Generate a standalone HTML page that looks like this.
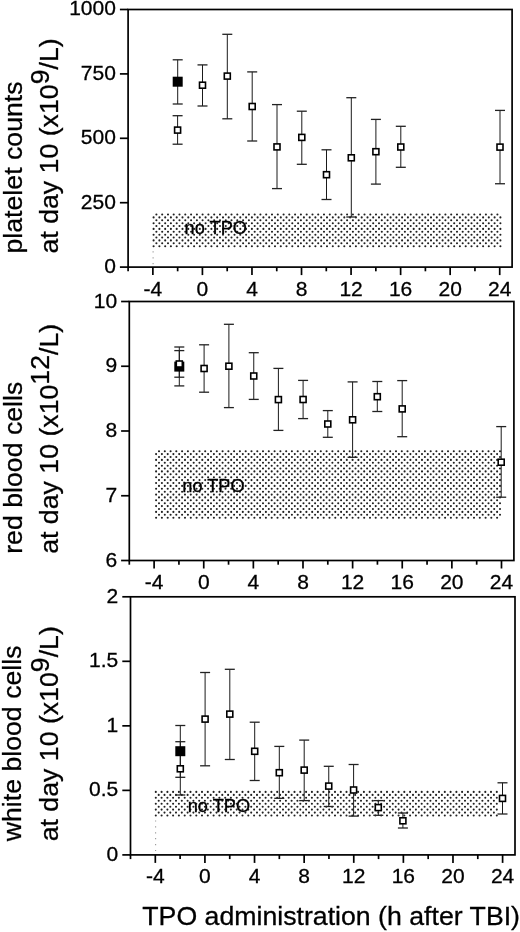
<!DOCTYPE html><html><head><meta charset="utf-8"><style>html,body{margin:0;padding:0;background:#fff;}svg{display:block;filter:grayscale(1);}text{font-family:"Liberation Sans", sans-serif;fill:#000;stroke:#000;stroke-width:0.3px;}</style></head><body>
<svg width="520" height="932" viewBox="0 0 520 932">
<rect width="520" height="932" fill="#fff"/>
<path fill="none" stroke="#202020" stroke-width="2.1" stroke-linecap="round" d="M156.4 214.5h0M162.2 214.5h0M168.0 214.5h0M173.7 214.5h0M179.5 214.5h0M185.3 214.5h0M191.1 214.5h0M196.9 214.5h0M202.6 214.5h0M208.4 214.5h0M214.2 214.5h0M220.0 214.5h0M225.8 214.5h0M231.5 214.5h0M237.3 214.5h0M243.1 214.5h0M248.9 214.5h0M254.7 214.5h0M260.4 214.5h0M266.2 214.5h0M272.0 214.5h0M277.8 214.5h0M283.6 214.5h0M289.3 214.5h0M295.1 214.5h0M300.9 214.5h0M306.7 214.5h0M312.5 214.5h0M318.2 214.5h0M324.0 214.5h0M329.8 214.5h0M335.6 214.5h0M341.4 214.5h0M347.1 214.5h0M352.9 214.5h0M358.7 214.5h0M364.5 214.5h0M370.3 214.5h0M376.0 214.5h0M381.8 214.5h0M387.6 214.5h0M393.4 214.5h0M399.2 214.5h0M404.9 214.5h0M410.7 214.5h0M416.5 214.5h0M422.3 214.5h0M428.1 214.5h0M433.8 214.5h0M439.6 214.5h0M445.4 214.5h0M451.2 214.5h0M457.0 214.5h0M462.7 214.5h0M468.5 214.5h0M474.3 214.5h0M480.1 214.5h0M485.9 214.5h0M491.6 214.5h0M497.4 214.5h0M156.4 220.3h0M162.2 220.3h0M168.0 220.3h0M173.7 220.3h0M179.5 220.3h0M185.3 220.3h0M191.1 220.3h0M196.9 220.3h0M202.6 220.3h0M208.4 220.3h0M214.2 220.3h0M220.0 220.3h0M225.8 220.3h0M231.5 220.3h0M237.3 220.3h0M243.1 220.3h0M248.9 220.3h0M254.7 220.3h0M260.4 220.3h0M266.2 220.3h0M272.0 220.3h0M277.8 220.3h0M283.6 220.3h0M289.3 220.3h0M295.1 220.3h0M300.9 220.3h0M306.7 220.3h0M312.5 220.3h0M318.2 220.3h0M324.0 220.3h0M329.8 220.3h0M335.6 220.3h0M341.4 220.3h0M347.1 220.3h0M352.9 220.3h0M358.7 220.3h0M364.5 220.3h0M370.3 220.3h0M376.0 220.3h0M381.8 220.3h0M387.6 220.3h0M393.4 220.3h0M399.2 220.3h0M404.9 220.3h0M410.7 220.3h0M416.5 220.3h0M422.3 220.3h0M428.1 220.3h0M433.8 220.3h0M439.6 220.3h0M445.4 220.3h0M451.2 220.3h0M457.0 220.3h0M462.7 220.3h0M468.5 220.3h0M474.3 220.3h0M480.1 220.3h0M485.9 220.3h0M491.6 220.3h0M497.4 220.3h0M156.4 226.0h0M162.2 226.0h0M168.0 226.0h0M173.7 226.0h0M179.5 226.0h0M185.3 226.0h0M191.1 226.0h0M196.9 226.0h0M202.6 226.0h0M208.4 226.0h0M214.2 226.0h0M220.0 226.0h0M225.8 226.0h0M231.5 226.0h0M237.3 226.0h0M243.1 226.0h0M248.9 226.0h0M254.7 226.0h0M260.4 226.0h0M266.2 226.0h0M272.0 226.0h0M277.8 226.0h0M283.6 226.0h0M289.3 226.0h0M295.1 226.0h0M300.9 226.0h0M306.7 226.0h0M312.5 226.0h0M318.2 226.0h0M324.0 226.0h0M329.8 226.0h0M335.6 226.0h0M341.4 226.0h0M347.1 226.0h0M352.9 226.0h0M358.7 226.0h0M364.5 226.0h0M370.3 226.0h0M376.0 226.0h0M381.8 226.0h0M387.6 226.0h0M393.4 226.0h0M399.2 226.0h0M404.9 226.0h0M410.7 226.0h0M416.5 226.0h0M422.3 226.0h0M428.1 226.0h0M433.8 226.0h0M439.6 226.0h0M445.4 226.0h0M451.2 226.0h0M457.0 226.0h0M462.7 226.0h0M468.5 226.0h0M474.3 226.0h0M480.1 226.0h0M485.9 226.0h0M491.6 226.0h0M497.4 226.0h0M156.4 231.8h0M162.2 231.8h0M168.0 231.8h0M173.7 231.8h0M179.5 231.8h0M185.3 231.8h0M191.1 231.8h0M196.9 231.8h0M202.6 231.8h0M208.4 231.8h0M214.2 231.8h0M220.0 231.8h0M225.8 231.8h0M231.5 231.8h0M237.3 231.8h0M243.1 231.8h0M248.9 231.8h0M254.7 231.8h0M260.4 231.8h0M266.2 231.8h0M272.0 231.8h0M277.8 231.8h0M283.6 231.8h0M289.3 231.8h0M295.1 231.8h0M300.9 231.8h0M306.7 231.8h0M312.5 231.8h0M318.2 231.8h0M324.0 231.8h0M329.8 231.8h0M335.6 231.8h0M341.4 231.8h0M347.1 231.8h0M352.9 231.8h0M358.7 231.8h0M364.5 231.8h0M370.3 231.8h0M376.0 231.8h0M381.8 231.8h0M387.6 231.8h0M393.4 231.8h0M399.2 231.8h0M404.9 231.8h0M410.7 231.8h0M416.5 231.8h0M422.3 231.8h0M428.1 231.8h0M433.8 231.8h0M439.6 231.8h0M445.4 231.8h0M451.2 231.8h0M457.0 231.8h0M462.7 231.8h0M468.5 231.8h0M474.3 231.8h0M480.1 231.8h0M485.9 231.8h0M491.6 231.8h0M497.4 231.8h0M156.4 237.5h0M162.2 237.5h0M168.0 237.5h0M173.7 237.5h0M179.5 237.5h0M185.3 237.5h0M191.1 237.5h0M196.9 237.5h0M202.6 237.5h0M208.4 237.5h0M214.2 237.5h0M220.0 237.5h0M225.8 237.5h0M231.5 237.5h0M237.3 237.5h0M243.1 237.5h0M248.9 237.5h0M254.7 237.5h0M260.4 237.5h0M266.2 237.5h0M272.0 237.5h0M277.8 237.5h0M283.6 237.5h0M289.3 237.5h0M295.1 237.5h0M300.9 237.5h0M306.7 237.5h0M312.5 237.5h0M318.2 237.5h0M324.0 237.5h0M329.8 237.5h0M335.6 237.5h0M341.4 237.5h0M347.1 237.5h0M352.9 237.5h0M358.7 237.5h0M364.5 237.5h0M370.3 237.5h0M376.0 237.5h0M381.8 237.5h0M387.6 237.5h0M393.4 237.5h0M399.2 237.5h0M404.9 237.5h0M410.7 237.5h0M416.5 237.5h0M422.3 237.5h0M428.1 237.5h0M433.8 237.5h0M439.6 237.5h0M445.4 237.5h0M451.2 237.5h0M457.0 237.5h0M462.7 237.5h0M468.5 237.5h0M474.3 237.5h0M480.1 237.5h0M485.9 237.5h0M491.6 237.5h0M497.4 237.5h0M156.4 243.3h0M162.2 243.3h0M168.0 243.3h0M173.7 243.3h0M179.5 243.3h0M185.3 243.3h0M191.1 243.3h0M196.9 243.3h0M202.6 243.3h0M208.4 243.3h0M214.2 243.3h0M220.0 243.3h0M225.8 243.3h0M231.5 243.3h0M237.3 243.3h0M243.1 243.3h0M248.9 243.3h0M254.7 243.3h0M260.4 243.3h0M266.2 243.3h0M272.0 243.3h0M277.8 243.3h0M283.6 243.3h0M289.3 243.3h0M295.1 243.3h0M300.9 243.3h0M306.7 243.3h0M312.5 243.3h0M318.2 243.3h0M324.0 243.3h0M329.8 243.3h0M335.6 243.3h0M341.4 243.3h0M347.1 243.3h0M352.9 243.3h0M358.7 243.3h0M364.5 243.3h0M370.3 243.3h0M376.0 243.3h0M381.8 243.3h0M387.6 243.3h0M393.4 243.3h0M399.2 243.3h0M404.9 243.3h0M410.7 243.3h0M416.5 243.3h0M422.3 243.3h0M428.1 243.3h0M433.8 243.3h0M439.6 243.3h0M445.4 243.3h0M451.2 243.3h0M457.0 243.3h0M462.7 243.3h0M468.5 243.3h0M474.3 243.3h0M480.1 243.3h0M485.9 243.3h0M491.6 243.3h0M497.4 243.3h0M153.6 217.4h0M159.4 217.4h0M165.2 217.4h0M170.9 217.4h0M176.7 217.4h0M182.5 217.4h0M188.3 217.4h0M194.1 217.4h0M199.8 217.4h0M205.6 217.4h0M211.4 217.4h0M217.2 217.4h0M223.0 217.4h0M228.7 217.4h0M234.5 217.4h0M240.3 217.4h0M246.1 217.4h0M251.9 217.4h0M257.6 217.4h0M263.4 217.4h0M269.2 217.4h0M275.0 217.4h0M280.8 217.4h0M286.5 217.4h0M292.3 217.4h0M298.1 217.4h0M303.9 217.4h0M309.7 217.4h0M315.4 217.4h0M321.2 217.4h0M327.0 217.4h0M332.8 217.4h0M338.6 217.4h0M344.3 217.4h0M350.1 217.4h0M355.9 217.4h0M361.7 217.4h0M367.5 217.4h0M373.2 217.4h0M379.0 217.4h0M384.8 217.4h0M390.6 217.4h0M396.4 217.4h0M402.1 217.4h0M407.9 217.4h0M413.7 217.4h0M419.5 217.4h0M425.3 217.4h0M431.0 217.4h0M436.8 217.4h0M442.6 217.4h0M448.4 217.4h0M454.2 217.4h0M459.9 217.4h0M465.7 217.4h0M471.5 217.4h0M477.3 217.4h0M483.1 217.4h0M488.8 217.4h0M494.6 217.4h0M500.4 217.4h0M153.6 223.2h0M159.4 223.2h0M165.2 223.2h0M170.9 223.2h0M176.7 223.2h0M182.5 223.2h0M188.3 223.2h0M194.1 223.2h0M199.8 223.2h0M205.6 223.2h0M211.4 223.2h0M217.2 223.2h0M223.0 223.2h0M228.7 223.2h0M234.5 223.2h0M240.3 223.2h0M246.1 223.2h0M251.9 223.2h0M257.6 223.2h0M263.4 223.2h0M269.2 223.2h0M275.0 223.2h0M280.8 223.2h0M286.5 223.2h0M292.3 223.2h0M298.1 223.2h0M303.9 223.2h0M309.7 223.2h0M315.4 223.2h0M321.2 223.2h0M327.0 223.2h0M332.8 223.2h0M338.6 223.2h0M344.3 223.2h0M350.1 223.2h0M355.9 223.2h0M361.7 223.2h0M367.5 223.2h0M373.2 223.2h0M379.0 223.2h0M384.8 223.2h0M390.6 223.2h0M396.4 223.2h0M402.1 223.2h0M407.9 223.2h0M413.7 223.2h0M419.5 223.2h0M425.3 223.2h0M431.0 223.2h0M436.8 223.2h0M442.6 223.2h0M448.4 223.2h0M454.2 223.2h0M459.9 223.2h0M465.7 223.2h0M471.5 223.2h0M477.3 223.2h0M483.1 223.2h0M488.8 223.2h0M494.6 223.2h0M500.4 223.2h0M153.6 228.9h0M159.4 228.9h0M165.2 228.9h0M170.9 228.9h0M176.7 228.9h0M182.5 228.9h0M188.3 228.9h0M194.1 228.9h0M199.8 228.9h0M205.6 228.9h0M211.4 228.9h0M217.2 228.9h0M223.0 228.9h0M228.7 228.9h0M234.5 228.9h0M240.3 228.9h0M246.1 228.9h0M251.9 228.9h0M257.6 228.9h0M263.4 228.9h0M269.2 228.9h0M275.0 228.9h0M280.8 228.9h0M286.5 228.9h0M292.3 228.9h0M298.1 228.9h0M303.9 228.9h0M309.7 228.9h0M315.4 228.9h0M321.2 228.9h0M327.0 228.9h0M332.8 228.9h0M338.6 228.9h0M344.3 228.9h0M350.1 228.9h0M355.9 228.9h0M361.7 228.9h0M367.5 228.9h0M373.2 228.9h0M379.0 228.9h0M384.8 228.9h0M390.6 228.9h0M396.4 228.9h0M402.1 228.9h0M407.9 228.9h0M413.7 228.9h0M419.5 228.9h0M425.3 228.9h0M431.0 228.9h0M436.8 228.9h0M442.6 228.9h0M448.4 228.9h0M454.2 228.9h0M459.9 228.9h0M465.7 228.9h0M471.5 228.9h0M477.3 228.9h0M483.1 228.9h0M488.8 228.9h0M494.6 228.9h0M500.4 228.9h0M153.6 234.7h0M159.4 234.7h0M165.2 234.7h0M170.9 234.7h0M176.7 234.7h0M182.5 234.7h0M188.3 234.7h0M194.1 234.7h0M199.8 234.7h0M205.6 234.7h0M211.4 234.7h0M217.2 234.7h0M223.0 234.7h0M228.7 234.7h0M234.5 234.7h0M240.3 234.7h0M246.1 234.7h0M251.9 234.7h0M257.6 234.7h0M263.4 234.7h0M269.2 234.7h0M275.0 234.7h0M280.8 234.7h0M286.5 234.7h0M292.3 234.7h0M298.1 234.7h0M303.9 234.7h0M309.7 234.7h0M315.4 234.7h0M321.2 234.7h0M327.0 234.7h0M332.8 234.7h0M338.6 234.7h0M344.3 234.7h0M350.1 234.7h0M355.9 234.7h0M361.7 234.7h0M367.5 234.7h0M373.2 234.7h0M379.0 234.7h0M384.8 234.7h0M390.6 234.7h0M396.4 234.7h0M402.1 234.7h0M407.9 234.7h0M413.7 234.7h0M419.5 234.7h0M425.3 234.7h0M431.0 234.7h0M436.8 234.7h0M442.6 234.7h0M448.4 234.7h0M454.2 234.7h0M459.9 234.7h0M465.7 234.7h0M471.5 234.7h0M477.3 234.7h0M483.1 234.7h0M488.8 234.7h0M494.6 234.7h0M500.4 234.7h0M153.6 240.4h0M159.4 240.4h0M165.2 240.4h0M170.9 240.4h0M176.7 240.4h0M182.5 240.4h0M188.3 240.4h0M194.1 240.4h0M199.8 240.4h0M205.6 240.4h0M211.4 240.4h0M217.2 240.4h0M223.0 240.4h0M228.7 240.4h0M234.5 240.4h0M240.3 240.4h0M246.1 240.4h0M251.9 240.4h0M257.6 240.4h0M263.4 240.4h0M269.2 240.4h0M275.0 240.4h0M280.8 240.4h0M286.5 240.4h0M292.3 240.4h0M298.1 240.4h0M303.9 240.4h0M309.7 240.4h0M315.4 240.4h0M321.2 240.4h0M327.0 240.4h0M332.8 240.4h0M338.6 240.4h0M344.3 240.4h0M350.1 240.4h0M355.9 240.4h0M361.7 240.4h0M367.5 240.4h0M373.2 240.4h0M379.0 240.4h0M384.8 240.4h0M390.6 240.4h0M396.4 240.4h0M402.1 240.4h0M407.9 240.4h0M413.7 240.4h0M419.5 240.4h0M425.3 240.4h0M431.0 240.4h0M436.8 240.4h0M442.6 240.4h0M448.4 240.4h0M454.2 240.4h0M459.9 240.4h0M465.7 240.4h0M471.5 240.4h0M477.3 240.4h0M483.1 240.4h0M488.8 240.4h0M494.6 240.4h0M500.4 240.4h0M153.6 246.2h0M159.4 246.2h0M165.2 246.2h0M170.9 246.2h0M176.7 246.2h0M182.5 246.2h0M188.3 246.2h0M194.1 246.2h0M199.8 246.2h0M205.6 246.2h0M211.4 246.2h0M217.2 246.2h0M223.0 246.2h0M228.7 246.2h0M234.5 246.2h0M240.3 246.2h0M246.1 246.2h0M251.9 246.2h0M257.6 246.2h0M263.4 246.2h0M269.2 246.2h0M275.0 246.2h0M280.8 246.2h0M286.5 246.2h0M292.3 246.2h0M298.1 246.2h0M303.9 246.2h0M309.7 246.2h0M315.4 246.2h0M321.2 246.2h0M327.0 246.2h0M332.8 246.2h0M338.6 246.2h0M344.3 246.2h0M350.1 246.2h0M355.9 246.2h0M361.7 246.2h0M367.5 246.2h0M373.2 246.2h0M379.0 246.2h0M384.8 246.2h0M390.6 246.2h0M396.4 246.2h0M402.1 246.2h0M407.9 246.2h0M413.7 246.2h0M419.5 246.2h0M425.3 246.2h0M431.0 246.2h0M436.8 246.2h0M442.6 246.2h0M448.4 246.2h0M454.2 246.2h0M459.9 246.2h0M465.7 246.2h0M471.5 246.2h0M477.3 246.2h0M483.1 246.2h0M488.8 246.2h0M494.6 246.2h0M500.4 246.2h0"/>
<line x1="153.10" y1="251.3" x2="153.10" y2="266.1" stroke="#999" stroke-width="1.1" stroke-dasharray="1.2,4.7"/>
<text x="184.60" y="233.5" font-size="18.2">no TPO</text>
<rect x="128.1" y="9.5" width="384.00" height="257.60" fill="none" stroke="#000" stroke-width="1.7"/>
<line x1="119.90" y1="9.50" x2="128.10" y2="9.50" stroke="#000" stroke-width="1.7"/>
<text x="115.90" y="14.70" font-size="21" text-anchor="end">1000</text>
<line x1="119.90" y1="73.90" x2="128.10" y2="73.90" stroke="#000" stroke-width="1.7"/>
<text x="115.90" y="79.90" font-size="21" text-anchor="end">750</text>
<line x1="119.90" y1="138.30" x2="128.10" y2="138.30" stroke="#000" stroke-width="1.7"/>
<text x="115.90" y="144.30" font-size="21" text-anchor="end">500</text>
<line x1="119.90" y1="202.70" x2="128.10" y2="202.70" stroke="#000" stroke-width="1.7"/>
<text x="115.90" y="208.70" font-size="21" text-anchor="end">250</text>
<line x1="119.90" y1="267.10" x2="128.10" y2="267.10" stroke="#000" stroke-width="1.7"/>
<text x="115.90" y="273.10" font-size="21" text-anchor="end">0</text>
<line x1="128.10" y1="267.10" x2="128.10" y2="271.30" stroke="#000" stroke-width="1.7"/>
<line x1="152.87" y1="267.10" x2="152.87" y2="275.10" stroke="#000" stroke-width="1.7"/>
<text x="152.87" y="296.30" font-size="21" text-anchor="middle">-4</text>
<line x1="177.65" y1="267.10" x2="177.65" y2="271.30" stroke="#000" stroke-width="1.7"/>
<line x1="202.42" y1="267.10" x2="202.42" y2="275.10" stroke="#000" stroke-width="1.7"/>
<text x="202.42" y="296.30" font-size="21" text-anchor="middle">0</text>
<line x1="227.20" y1="267.10" x2="227.20" y2="271.30" stroke="#000" stroke-width="1.7"/>
<line x1="251.97" y1="267.10" x2="251.97" y2="275.10" stroke="#000" stroke-width="1.7"/>
<text x="251.97" y="296.30" font-size="21" text-anchor="middle">4</text>
<line x1="276.75" y1="267.10" x2="276.75" y2="271.30" stroke="#000" stroke-width="1.7"/>
<line x1="301.52" y1="267.10" x2="301.52" y2="275.10" stroke="#000" stroke-width="1.7"/>
<text x="301.52" y="296.30" font-size="21" text-anchor="middle">8</text>
<line x1="326.29" y1="267.10" x2="326.29" y2="271.30" stroke="#000" stroke-width="1.7"/>
<line x1="351.07" y1="267.10" x2="351.07" y2="275.10" stroke="#000" stroke-width="1.7"/>
<text x="351.07" y="296.30" font-size="21" text-anchor="middle">12</text>
<line x1="375.84" y1="267.10" x2="375.84" y2="271.30" stroke="#000" stroke-width="1.7"/>
<line x1="400.62" y1="267.10" x2="400.62" y2="275.10" stroke="#000" stroke-width="1.7"/>
<text x="400.62" y="296.30" font-size="21" text-anchor="middle">16</text>
<line x1="425.39" y1="267.10" x2="425.39" y2="271.30" stroke="#000" stroke-width="1.7"/>
<line x1="450.16" y1="267.10" x2="450.16" y2="275.10" stroke="#000" stroke-width="1.7"/>
<text x="450.16" y="296.30" font-size="21" text-anchor="middle">20</text>
<line x1="474.94" y1="267.10" x2="474.94" y2="271.30" stroke="#000" stroke-width="1.7"/>
<line x1="499.71" y1="267.10" x2="499.71" y2="275.10" stroke="#000" stroke-width="1.7"/>
<text x="499.71" y="296.30" font-size="21" text-anchor="middle">24</text>
<line x1="177.7" y1="59.8" x2="177.7" y2="104.0" stroke="#1a1a1a" stroke-width="1.0"/>
<line x1="172.70" y1="59.8" x2="182.70" y2="59.8" stroke="#222" stroke-width="1.3"/>
<line x1="172.70" y1="104.0" x2="182.70" y2="104.0" stroke="#222" stroke-width="1.3"/>
<line x1="177.6" y1="115.7" x2="177.6" y2="144.2" stroke="#1a1a1a" stroke-width="1.0"/>
<line x1="172.60" y1="115.7" x2="182.60" y2="115.7" stroke="#222" stroke-width="1.3"/>
<line x1="172.60" y1="144.2" x2="182.60" y2="144.2" stroke="#222" stroke-width="1.3"/>
<line x1="202.5" y1="64.9" x2="202.5" y2="106.0" stroke="#1a1a1a" stroke-width="1.0"/>
<line x1="197.50" y1="64.9" x2="207.50" y2="64.9" stroke="#222" stroke-width="1.3"/>
<line x1="197.50" y1="106.0" x2="207.50" y2="106.0" stroke="#222" stroke-width="1.3"/>
<line x1="227.3" y1="34.3" x2="227.3" y2="118.8" stroke="#1a1a1a" stroke-width="1.0"/>
<line x1="222.30" y1="34.3" x2="232.30" y2="34.3" stroke="#222" stroke-width="1.3"/>
<line x1="222.30" y1="118.8" x2="232.30" y2="118.8" stroke="#222" stroke-width="1.3"/>
<line x1="252.2" y1="71.9" x2="252.2" y2="141.0" stroke="#1a1a1a" stroke-width="1.0"/>
<line x1="247.20" y1="71.9" x2="257.20" y2="71.9" stroke="#222" stroke-width="1.3"/>
<line x1="247.20" y1="141.0" x2="257.20" y2="141.0" stroke="#222" stroke-width="1.3"/>
<line x1="277.0" y1="104.6" x2="277.0" y2="188.6" stroke="#1a1a1a" stroke-width="1.0"/>
<line x1="272.00" y1="104.6" x2="282.00" y2="104.6" stroke="#222" stroke-width="1.3"/>
<line x1="272.00" y1="188.6" x2="282.00" y2="188.6" stroke="#222" stroke-width="1.3"/>
<line x1="301.8" y1="111.2" x2="301.8" y2="164.3" stroke="#1a1a1a" stroke-width="1.0"/>
<line x1="296.80" y1="111.2" x2="306.80" y2="111.2" stroke="#222" stroke-width="1.3"/>
<line x1="296.80" y1="164.3" x2="306.80" y2="164.3" stroke="#222" stroke-width="1.3"/>
<line x1="326.5" y1="149.8" x2="326.5" y2="199.5" stroke="#1a1a1a" stroke-width="1.0"/>
<line x1="321.50" y1="149.8" x2="331.50" y2="149.8" stroke="#222" stroke-width="1.3"/>
<line x1="321.50" y1="199.5" x2="331.50" y2="199.5" stroke="#222" stroke-width="1.3"/>
<line x1="351.3" y1="97.7" x2="351.3" y2="217.0" stroke="#1a1a1a" stroke-width="1.0"/>
<line x1="346.30" y1="97.7" x2="356.30" y2="97.7" stroke="#222" stroke-width="1.3"/>
<line x1="346.30" y1="217.0" x2="356.30" y2="217.0" stroke="#222" stroke-width="1.3"/>
<line x1="375.9" y1="119.4" x2="375.9" y2="184.1" stroke="#1a1a1a" stroke-width="1.0"/>
<line x1="370.90" y1="119.4" x2="380.90" y2="119.4" stroke="#222" stroke-width="1.3"/>
<line x1="370.90" y1="184.1" x2="380.90" y2="184.1" stroke="#222" stroke-width="1.3"/>
<line x1="400.8" y1="126.3" x2="400.8" y2="167.3" stroke="#1a1a1a" stroke-width="1.0"/>
<line x1="395.80" y1="126.3" x2="405.80" y2="126.3" stroke="#222" stroke-width="1.3"/>
<line x1="395.80" y1="167.3" x2="405.80" y2="167.3" stroke="#222" stroke-width="1.3"/>
<line x1="500.0" y1="110.4" x2="500.0" y2="183.75" stroke="#1a1a1a" stroke-width="1.0"/>
<line x1="495.00" y1="110.4" x2="505.00" y2="110.4" stroke="#222" stroke-width="1.3"/>
<line x1="495.00" y1="183.75" x2="505.00" y2="183.75" stroke="#222" stroke-width="1.3"/>
<rect x="172.70" y="76.70" width="10.0" height="10.0" fill="#000"/>
<rect x="174.60" y="127.10" width="6.00" height="6.00" fill="#fff" stroke="#000" stroke-width="1.6"/>
<rect x="199.50" y="82.20" width="6.00" height="6.00" fill="#fff" stroke="#000" stroke-width="1.6"/>
<rect x="224.30" y="73.10" width="6.00" height="6.00" fill="#fff" stroke="#000" stroke-width="1.6"/>
<rect x="249.20" y="103.50" width="6.00" height="6.00" fill="#fff" stroke="#000" stroke-width="1.6"/>
<rect x="274.00" y="143.90" width="6.00" height="6.00" fill="#fff" stroke="#000" stroke-width="1.6"/>
<rect x="298.80" y="134.40" width="6.00" height="6.00" fill="#fff" stroke="#000" stroke-width="1.6"/>
<rect x="323.50" y="171.70" width="6.00" height="6.00" fill="#fff" stroke="#000" stroke-width="1.6"/>
<rect x="348.30" y="154.80" width="6.00" height="6.00" fill="#fff" stroke="#000" stroke-width="1.6"/>
<rect x="372.90" y="148.70" width="6.00" height="6.00" fill="#fff" stroke="#000" stroke-width="1.6"/>
<rect x="397.80" y="144.00" width="6.00" height="6.00" fill="#fff" stroke="#000" stroke-width="1.6"/>
<rect x="497.00" y="144.10" width="6.00" height="6.00" fill="#fff" stroke="#000" stroke-width="1.6"/>
<text transform="translate(22.2,253.5) rotate(-90)" font-size="26.7">platelet counts</text>
<text transform="translate(57.9,253.5) rotate(-90)" font-size="26.7">at day 10 (x10<tspan dy="-9.3">9</tspan><tspan dy="9.3">/L)</tspan></text>
<path fill="none" stroke="#202020" stroke-width="2.1" stroke-linecap="round" d="M159.0 451.2h0M164.8 451.2h0M170.6 451.2h0M176.3 451.2h0M182.1 451.2h0M187.9 451.2h0M193.7 451.2h0M199.5 451.2h0M205.2 451.2h0M211.0 451.2h0M216.8 451.2h0M222.6 451.2h0M228.4 451.2h0M234.1 451.2h0M239.9 451.2h0M245.7 451.2h0M251.5 451.2h0M257.3 451.2h0M263.0 451.2h0M268.8 451.2h0M274.6 451.2h0M280.4 451.2h0M286.2 451.2h0M291.9 451.2h0M297.7 451.2h0M303.5 451.2h0M309.3 451.2h0M315.1 451.2h0M320.8 451.2h0M326.6 451.2h0M332.4 451.2h0M338.2 451.2h0M344.0 451.2h0M349.7 451.2h0M355.5 451.2h0M361.3 451.2h0M367.1 451.2h0M372.9 451.2h0M378.6 451.2h0M384.4 451.2h0M390.2 451.2h0M396.0 451.2h0M401.8 451.2h0M407.5 451.2h0M413.3 451.2h0M419.1 451.2h0M424.9 451.2h0M430.7 451.2h0M436.4 451.2h0M442.2 451.2h0M448.0 451.2h0M453.8 451.2h0M459.6 451.2h0M465.3 451.2h0M471.1 451.2h0M476.9 451.2h0M482.7 451.2h0M488.5 451.2h0M494.2 451.2h0M500.0 451.2h0M159.0 457.0h0M164.8 457.0h0M170.6 457.0h0M176.3 457.0h0M182.1 457.0h0M187.9 457.0h0M193.7 457.0h0M199.5 457.0h0M205.2 457.0h0M211.0 457.0h0M216.8 457.0h0M222.6 457.0h0M228.4 457.0h0M234.1 457.0h0M239.9 457.0h0M245.7 457.0h0M251.5 457.0h0M257.3 457.0h0M263.0 457.0h0M268.8 457.0h0M274.6 457.0h0M280.4 457.0h0M286.2 457.0h0M291.9 457.0h0M297.7 457.0h0M303.5 457.0h0M309.3 457.0h0M315.1 457.0h0M320.8 457.0h0M326.6 457.0h0M332.4 457.0h0M338.2 457.0h0M344.0 457.0h0M349.7 457.0h0M355.5 457.0h0M361.3 457.0h0M367.1 457.0h0M372.9 457.0h0M378.6 457.0h0M384.4 457.0h0M390.2 457.0h0M396.0 457.0h0M401.8 457.0h0M407.5 457.0h0M413.3 457.0h0M419.1 457.0h0M424.9 457.0h0M430.7 457.0h0M436.4 457.0h0M442.2 457.0h0M448.0 457.0h0M453.8 457.0h0M459.6 457.0h0M465.3 457.0h0M471.1 457.0h0M476.9 457.0h0M482.7 457.0h0M488.5 457.0h0M494.2 457.0h0M500.0 457.0h0M159.0 462.8h0M164.8 462.8h0M170.6 462.8h0M176.3 462.8h0M182.1 462.8h0M187.9 462.8h0M193.7 462.8h0M199.5 462.8h0M205.2 462.8h0M211.0 462.8h0M216.8 462.8h0M222.6 462.8h0M228.4 462.8h0M234.1 462.8h0M239.9 462.8h0M245.7 462.8h0M251.5 462.8h0M257.3 462.8h0M263.0 462.8h0M268.8 462.8h0M274.6 462.8h0M280.4 462.8h0M286.2 462.8h0M291.9 462.8h0M297.7 462.8h0M303.5 462.8h0M309.3 462.8h0M315.1 462.8h0M320.8 462.8h0M326.6 462.8h0M332.4 462.8h0M338.2 462.8h0M344.0 462.8h0M349.7 462.8h0M355.5 462.8h0M361.3 462.8h0M367.1 462.8h0M372.9 462.8h0M378.6 462.8h0M384.4 462.8h0M390.2 462.8h0M396.0 462.8h0M401.8 462.8h0M407.5 462.8h0M413.3 462.8h0M419.1 462.8h0M424.9 462.8h0M430.7 462.8h0M436.4 462.8h0M442.2 462.8h0M448.0 462.8h0M453.8 462.8h0M459.6 462.8h0M465.3 462.8h0M471.1 462.8h0M476.9 462.8h0M482.7 462.8h0M488.5 462.8h0M494.2 462.8h0M500.0 462.8h0M159.0 468.5h0M164.8 468.5h0M170.6 468.5h0M176.3 468.5h0M182.1 468.5h0M187.9 468.5h0M193.7 468.5h0M199.5 468.5h0M205.2 468.5h0M211.0 468.5h0M216.8 468.5h0M222.6 468.5h0M228.4 468.5h0M234.1 468.5h0M239.9 468.5h0M245.7 468.5h0M251.5 468.5h0M257.3 468.5h0M263.0 468.5h0M268.8 468.5h0M274.6 468.5h0M280.4 468.5h0M286.2 468.5h0M291.9 468.5h0M297.7 468.5h0M303.5 468.5h0M309.3 468.5h0M315.1 468.5h0M320.8 468.5h0M326.6 468.5h0M332.4 468.5h0M338.2 468.5h0M344.0 468.5h0M349.7 468.5h0M355.5 468.5h0M361.3 468.5h0M367.1 468.5h0M372.9 468.5h0M378.6 468.5h0M384.4 468.5h0M390.2 468.5h0M396.0 468.5h0M401.8 468.5h0M407.5 468.5h0M413.3 468.5h0M419.1 468.5h0M424.9 468.5h0M430.7 468.5h0M436.4 468.5h0M442.2 468.5h0M448.0 468.5h0M453.8 468.5h0M459.6 468.5h0M465.3 468.5h0M471.1 468.5h0M476.9 468.5h0M482.7 468.5h0M488.5 468.5h0M494.2 468.5h0M500.0 468.5h0M159.0 474.3h0M164.8 474.3h0M170.6 474.3h0M176.3 474.3h0M182.1 474.3h0M187.9 474.3h0M193.7 474.3h0M199.5 474.3h0M205.2 474.3h0M211.0 474.3h0M216.8 474.3h0M222.6 474.3h0M228.4 474.3h0M234.1 474.3h0M239.9 474.3h0M245.7 474.3h0M251.5 474.3h0M257.3 474.3h0M263.0 474.3h0M268.8 474.3h0M274.6 474.3h0M280.4 474.3h0M286.2 474.3h0M291.9 474.3h0M297.7 474.3h0M303.5 474.3h0M309.3 474.3h0M315.1 474.3h0M320.8 474.3h0M326.6 474.3h0M332.4 474.3h0M338.2 474.3h0M344.0 474.3h0M349.7 474.3h0M355.5 474.3h0M361.3 474.3h0M367.1 474.3h0M372.9 474.3h0M378.6 474.3h0M384.4 474.3h0M390.2 474.3h0M396.0 474.3h0M401.8 474.3h0M407.5 474.3h0M413.3 474.3h0M419.1 474.3h0M424.9 474.3h0M430.7 474.3h0M436.4 474.3h0M442.2 474.3h0M448.0 474.3h0M453.8 474.3h0M459.6 474.3h0M465.3 474.3h0M471.1 474.3h0M476.9 474.3h0M482.7 474.3h0M488.5 474.3h0M494.2 474.3h0M500.0 474.3h0M159.0 480.1h0M164.8 480.1h0M170.6 480.1h0M176.3 480.1h0M182.1 480.1h0M187.9 480.1h0M193.7 480.1h0M199.5 480.1h0M205.2 480.1h0M211.0 480.1h0M216.8 480.1h0M222.6 480.1h0M228.4 480.1h0M234.1 480.1h0M239.9 480.1h0M245.7 480.1h0M251.5 480.1h0M257.3 480.1h0M263.0 480.1h0M268.8 480.1h0M274.6 480.1h0M280.4 480.1h0M286.2 480.1h0M291.9 480.1h0M297.7 480.1h0M303.5 480.1h0M309.3 480.1h0M315.1 480.1h0M320.8 480.1h0M326.6 480.1h0M332.4 480.1h0M338.2 480.1h0M344.0 480.1h0M349.7 480.1h0M355.5 480.1h0M361.3 480.1h0M367.1 480.1h0M372.9 480.1h0M378.6 480.1h0M384.4 480.1h0M390.2 480.1h0M396.0 480.1h0M401.8 480.1h0M407.5 480.1h0M413.3 480.1h0M419.1 480.1h0M424.9 480.1h0M430.7 480.1h0M436.4 480.1h0M442.2 480.1h0M448.0 480.1h0M453.8 480.1h0M459.6 480.1h0M465.3 480.1h0M471.1 480.1h0M476.9 480.1h0M482.7 480.1h0M488.5 480.1h0M494.2 480.1h0M500.0 480.1h0M159.0 485.9h0M164.8 485.9h0M170.6 485.9h0M176.3 485.9h0M182.1 485.9h0M187.9 485.9h0M193.7 485.9h0M199.5 485.9h0M205.2 485.9h0M211.0 485.9h0M216.8 485.9h0M222.6 485.9h0M228.4 485.9h0M234.1 485.9h0M239.9 485.9h0M245.7 485.9h0M251.5 485.9h0M257.3 485.9h0M263.0 485.9h0M268.8 485.9h0M274.6 485.9h0M280.4 485.9h0M286.2 485.9h0M291.9 485.9h0M297.7 485.9h0M303.5 485.9h0M309.3 485.9h0M315.1 485.9h0M320.8 485.9h0M326.6 485.9h0M332.4 485.9h0M338.2 485.9h0M344.0 485.9h0M349.7 485.9h0M355.5 485.9h0M361.3 485.9h0M367.1 485.9h0M372.9 485.9h0M378.6 485.9h0M384.4 485.9h0M390.2 485.9h0M396.0 485.9h0M401.8 485.9h0M407.5 485.9h0M413.3 485.9h0M419.1 485.9h0M424.9 485.9h0M430.7 485.9h0M436.4 485.9h0M442.2 485.9h0M448.0 485.9h0M453.8 485.9h0M459.6 485.9h0M465.3 485.9h0M471.1 485.9h0M476.9 485.9h0M482.7 485.9h0M488.5 485.9h0M494.2 485.9h0M500.0 485.9h0M159.0 491.7h0M164.8 491.7h0M170.6 491.7h0M176.3 491.7h0M182.1 491.7h0M187.9 491.7h0M193.7 491.7h0M199.5 491.7h0M205.2 491.7h0M211.0 491.7h0M216.8 491.7h0M222.6 491.7h0M228.4 491.7h0M234.1 491.7h0M239.9 491.7h0M245.7 491.7h0M251.5 491.7h0M257.3 491.7h0M263.0 491.7h0M268.8 491.7h0M274.6 491.7h0M280.4 491.7h0M286.2 491.7h0M291.9 491.7h0M297.7 491.7h0M303.5 491.7h0M309.3 491.7h0M315.1 491.7h0M320.8 491.7h0M326.6 491.7h0M332.4 491.7h0M338.2 491.7h0M344.0 491.7h0M349.7 491.7h0M355.5 491.7h0M361.3 491.7h0M367.1 491.7h0M372.9 491.7h0M378.6 491.7h0M384.4 491.7h0M390.2 491.7h0M396.0 491.7h0M401.8 491.7h0M407.5 491.7h0M413.3 491.7h0M419.1 491.7h0M424.9 491.7h0M430.7 491.7h0M436.4 491.7h0M442.2 491.7h0M448.0 491.7h0M453.8 491.7h0M459.6 491.7h0M465.3 491.7h0M471.1 491.7h0M476.9 491.7h0M482.7 491.7h0M488.5 491.7h0M494.2 491.7h0M500.0 491.7h0M159.0 497.4h0M164.8 497.4h0M170.6 497.4h0M176.3 497.4h0M182.1 497.4h0M187.9 497.4h0M193.7 497.4h0M199.5 497.4h0M205.2 497.4h0M211.0 497.4h0M216.8 497.4h0M222.6 497.4h0M228.4 497.4h0M234.1 497.4h0M239.9 497.4h0M245.7 497.4h0M251.5 497.4h0M257.3 497.4h0M263.0 497.4h0M268.8 497.4h0M274.6 497.4h0M280.4 497.4h0M286.2 497.4h0M291.9 497.4h0M297.7 497.4h0M303.5 497.4h0M309.3 497.4h0M315.1 497.4h0M320.8 497.4h0M326.6 497.4h0M332.4 497.4h0M338.2 497.4h0M344.0 497.4h0M349.7 497.4h0M355.5 497.4h0M361.3 497.4h0M367.1 497.4h0M372.9 497.4h0M378.6 497.4h0M384.4 497.4h0M390.2 497.4h0M396.0 497.4h0M401.8 497.4h0M407.5 497.4h0M413.3 497.4h0M419.1 497.4h0M424.9 497.4h0M430.7 497.4h0M436.4 497.4h0M442.2 497.4h0M448.0 497.4h0M453.8 497.4h0M459.6 497.4h0M465.3 497.4h0M471.1 497.4h0M476.9 497.4h0M482.7 497.4h0M488.5 497.4h0M494.2 497.4h0M500.0 497.4h0M159.0 503.2h0M164.8 503.2h0M170.6 503.2h0M176.3 503.2h0M182.1 503.2h0M187.9 503.2h0M193.7 503.2h0M199.5 503.2h0M205.2 503.2h0M211.0 503.2h0M216.8 503.2h0M222.6 503.2h0M228.4 503.2h0M234.1 503.2h0M239.9 503.2h0M245.7 503.2h0M251.5 503.2h0M257.3 503.2h0M263.0 503.2h0M268.8 503.2h0M274.6 503.2h0M280.4 503.2h0M286.2 503.2h0M291.9 503.2h0M297.7 503.2h0M303.5 503.2h0M309.3 503.2h0M315.1 503.2h0M320.8 503.2h0M326.6 503.2h0M332.4 503.2h0M338.2 503.2h0M344.0 503.2h0M349.7 503.2h0M355.5 503.2h0M361.3 503.2h0M367.1 503.2h0M372.9 503.2h0M378.6 503.2h0M384.4 503.2h0M390.2 503.2h0M396.0 503.2h0M401.8 503.2h0M407.5 503.2h0M413.3 503.2h0M419.1 503.2h0M424.9 503.2h0M430.7 503.2h0M436.4 503.2h0M442.2 503.2h0M448.0 503.2h0M453.8 503.2h0M459.6 503.2h0M465.3 503.2h0M471.1 503.2h0M476.9 503.2h0M482.7 503.2h0M488.5 503.2h0M494.2 503.2h0M500.0 503.2h0M159.0 509.0h0M164.8 509.0h0M170.6 509.0h0M176.3 509.0h0M182.1 509.0h0M187.9 509.0h0M193.7 509.0h0M199.5 509.0h0M205.2 509.0h0M211.0 509.0h0M216.8 509.0h0M222.6 509.0h0M228.4 509.0h0M234.1 509.0h0M239.9 509.0h0M245.7 509.0h0M251.5 509.0h0M257.3 509.0h0M263.0 509.0h0M268.8 509.0h0M274.6 509.0h0M280.4 509.0h0M286.2 509.0h0M291.9 509.0h0M297.7 509.0h0M303.5 509.0h0M309.3 509.0h0M315.1 509.0h0M320.8 509.0h0M326.6 509.0h0M332.4 509.0h0M338.2 509.0h0M344.0 509.0h0M349.7 509.0h0M355.5 509.0h0M361.3 509.0h0M367.1 509.0h0M372.9 509.0h0M378.6 509.0h0M384.4 509.0h0M390.2 509.0h0M396.0 509.0h0M401.8 509.0h0M407.5 509.0h0M413.3 509.0h0M419.1 509.0h0M424.9 509.0h0M430.7 509.0h0M436.4 509.0h0M442.2 509.0h0M448.0 509.0h0M453.8 509.0h0M459.6 509.0h0M465.3 509.0h0M471.1 509.0h0M476.9 509.0h0M482.7 509.0h0M488.5 509.0h0M494.2 509.0h0M500.0 509.0h0M159.0 514.8h0M164.8 514.8h0M170.6 514.8h0M176.3 514.8h0M182.1 514.8h0M187.9 514.8h0M193.7 514.8h0M199.5 514.8h0M205.2 514.8h0M211.0 514.8h0M216.8 514.8h0M222.6 514.8h0M228.4 514.8h0M234.1 514.8h0M239.9 514.8h0M245.7 514.8h0M251.5 514.8h0M257.3 514.8h0M263.0 514.8h0M268.8 514.8h0M274.6 514.8h0M280.4 514.8h0M286.2 514.8h0M291.9 514.8h0M297.7 514.8h0M303.5 514.8h0M309.3 514.8h0M315.1 514.8h0M320.8 514.8h0M326.6 514.8h0M332.4 514.8h0M338.2 514.8h0M344.0 514.8h0M349.7 514.8h0M355.5 514.8h0M361.3 514.8h0M367.1 514.8h0M372.9 514.8h0M378.6 514.8h0M384.4 514.8h0M390.2 514.8h0M396.0 514.8h0M401.8 514.8h0M407.5 514.8h0M413.3 514.8h0M419.1 514.8h0M424.9 514.8h0M430.7 514.8h0M436.4 514.8h0M442.2 514.8h0M448.0 514.8h0M453.8 514.8h0M459.6 514.8h0M465.3 514.8h0M471.1 514.8h0M476.9 514.8h0M482.7 514.8h0M488.5 514.8h0M494.2 514.8h0M500.0 514.8h0M156.1 454.1h0M161.9 454.1h0M167.7 454.1h0M173.4 454.1h0M179.2 454.1h0M185.0 454.1h0M190.8 454.1h0M196.6 454.1h0M202.3 454.1h0M208.1 454.1h0M213.9 454.1h0M219.7 454.1h0M225.5 454.1h0M231.2 454.1h0M237.0 454.1h0M242.8 454.1h0M248.6 454.1h0M254.4 454.1h0M260.1 454.1h0M265.9 454.1h0M271.7 454.1h0M277.5 454.1h0M283.3 454.1h0M289.0 454.1h0M294.8 454.1h0M300.6 454.1h0M306.4 454.1h0M312.2 454.1h0M317.9 454.1h0M323.7 454.1h0M329.5 454.1h0M335.3 454.1h0M341.1 454.1h0M346.8 454.1h0M352.6 454.1h0M358.4 454.1h0M364.2 454.1h0M370.0 454.1h0M375.7 454.1h0M381.5 454.1h0M387.3 454.1h0M393.1 454.1h0M398.9 454.1h0M404.6 454.1h0M410.4 454.1h0M416.2 454.1h0M422.0 454.1h0M427.8 454.1h0M433.5 454.1h0M439.3 454.1h0M445.1 454.1h0M450.9 454.1h0M456.7 454.1h0M462.4 454.1h0M468.2 454.1h0M474.0 454.1h0M479.8 454.1h0M485.6 454.1h0M491.3 454.1h0M497.1 454.1h0M156.1 459.9h0M161.9 459.9h0M167.7 459.9h0M173.4 459.9h0M179.2 459.9h0M185.0 459.9h0M190.8 459.9h0M196.6 459.9h0M202.3 459.9h0M208.1 459.9h0M213.9 459.9h0M219.7 459.9h0M225.5 459.9h0M231.2 459.9h0M237.0 459.9h0M242.8 459.9h0M248.6 459.9h0M254.4 459.9h0M260.1 459.9h0M265.9 459.9h0M271.7 459.9h0M277.5 459.9h0M283.3 459.9h0M289.0 459.9h0M294.8 459.9h0M300.6 459.9h0M306.4 459.9h0M312.2 459.9h0M317.9 459.9h0M323.7 459.9h0M329.5 459.9h0M335.3 459.9h0M341.1 459.9h0M346.8 459.9h0M352.6 459.9h0M358.4 459.9h0M364.2 459.9h0M370.0 459.9h0M375.7 459.9h0M381.5 459.9h0M387.3 459.9h0M393.1 459.9h0M398.9 459.9h0M404.6 459.9h0M410.4 459.9h0M416.2 459.9h0M422.0 459.9h0M427.8 459.9h0M433.5 459.9h0M439.3 459.9h0M445.1 459.9h0M450.9 459.9h0M456.7 459.9h0M462.4 459.9h0M468.2 459.9h0M474.0 459.9h0M479.8 459.9h0M485.6 459.9h0M491.3 459.9h0M497.1 459.9h0M156.1 465.7h0M161.9 465.7h0M167.7 465.7h0M173.4 465.7h0M179.2 465.7h0M185.0 465.7h0M190.8 465.7h0M196.6 465.7h0M202.3 465.7h0M208.1 465.7h0M213.9 465.7h0M219.7 465.7h0M225.5 465.7h0M231.2 465.7h0M237.0 465.7h0M242.8 465.7h0M248.6 465.7h0M254.4 465.7h0M260.1 465.7h0M265.9 465.7h0M271.7 465.7h0M277.5 465.7h0M283.3 465.7h0M289.0 465.7h0M294.8 465.7h0M300.6 465.7h0M306.4 465.7h0M312.2 465.7h0M317.9 465.7h0M323.7 465.7h0M329.5 465.7h0M335.3 465.7h0M341.1 465.7h0M346.8 465.7h0M352.6 465.7h0M358.4 465.7h0M364.2 465.7h0M370.0 465.7h0M375.7 465.7h0M381.5 465.7h0M387.3 465.7h0M393.1 465.7h0M398.9 465.7h0M404.6 465.7h0M410.4 465.7h0M416.2 465.7h0M422.0 465.7h0M427.8 465.7h0M433.5 465.7h0M439.3 465.7h0M445.1 465.7h0M450.9 465.7h0M456.7 465.7h0M462.4 465.7h0M468.2 465.7h0M474.0 465.7h0M479.8 465.7h0M485.6 465.7h0M491.3 465.7h0M497.1 465.7h0M156.1 471.4h0M161.9 471.4h0M167.7 471.4h0M173.4 471.4h0M179.2 471.4h0M185.0 471.4h0M190.8 471.4h0M196.6 471.4h0M202.3 471.4h0M208.1 471.4h0M213.9 471.4h0M219.7 471.4h0M225.5 471.4h0M231.2 471.4h0M237.0 471.4h0M242.8 471.4h0M248.6 471.4h0M254.4 471.4h0M260.1 471.4h0M265.9 471.4h0M271.7 471.4h0M277.5 471.4h0M283.3 471.4h0M289.0 471.4h0M294.8 471.4h0M300.6 471.4h0M306.4 471.4h0M312.2 471.4h0M317.9 471.4h0M323.7 471.4h0M329.5 471.4h0M335.3 471.4h0M341.1 471.4h0M346.8 471.4h0M352.6 471.4h0M358.4 471.4h0M364.2 471.4h0M370.0 471.4h0M375.7 471.4h0M381.5 471.4h0M387.3 471.4h0M393.1 471.4h0M398.9 471.4h0M404.6 471.4h0M410.4 471.4h0M416.2 471.4h0M422.0 471.4h0M427.8 471.4h0M433.5 471.4h0M439.3 471.4h0M445.1 471.4h0M450.9 471.4h0M456.7 471.4h0M462.4 471.4h0M468.2 471.4h0M474.0 471.4h0M479.8 471.4h0M485.6 471.4h0M491.3 471.4h0M497.1 471.4h0M156.1 477.2h0M161.9 477.2h0M167.7 477.2h0M173.4 477.2h0M179.2 477.2h0M185.0 477.2h0M190.8 477.2h0M196.6 477.2h0M202.3 477.2h0M208.1 477.2h0M213.9 477.2h0M219.7 477.2h0M225.5 477.2h0M231.2 477.2h0M237.0 477.2h0M242.8 477.2h0M248.6 477.2h0M254.4 477.2h0M260.1 477.2h0M265.9 477.2h0M271.7 477.2h0M277.5 477.2h0M283.3 477.2h0M289.0 477.2h0M294.8 477.2h0M300.6 477.2h0M306.4 477.2h0M312.2 477.2h0M317.9 477.2h0M323.7 477.2h0M329.5 477.2h0M335.3 477.2h0M341.1 477.2h0M346.8 477.2h0M352.6 477.2h0M358.4 477.2h0M364.2 477.2h0M370.0 477.2h0M375.7 477.2h0M381.5 477.2h0M387.3 477.2h0M393.1 477.2h0M398.9 477.2h0M404.6 477.2h0M410.4 477.2h0M416.2 477.2h0M422.0 477.2h0M427.8 477.2h0M433.5 477.2h0M439.3 477.2h0M445.1 477.2h0M450.9 477.2h0M456.7 477.2h0M462.4 477.2h0M468.2 477.2h0M474.0 477.2h0M479.8 477.2h0M485.6 477.2h0M491.3 477.2h0M497.1 477.2h0M156.1 483.0h0M161.9 483.0h0M167.7 483.0h0M173.4 483.0h0M179.2 483.0h0M185.0 483.0h0M190.8 483.0h0M196.6 483.0h0M202.3 483.0h0M208.1 483.0h0M213.9 483.0h0M219.7 483.0h0M225.5 483.0h0M231.2 483.0h0M237.0 483.0h0M242.8 483.0h0M248.6 483.0h0M254.4 483.0h0M260.1 483.0h0M265.9 483.0h0M271.7 483.0h0M277.5 483.0h0M283.3 483.0h0M289.0 483.0h0M294.8 483.0h0M300.6 483.0h0M306.4 483.0h0M312.2 483.0h0M317.9 483.0h0M323.7 483.0h0M329.5 483.0h0M335.3 483.0h0M341.1 483.0h0M346.8 483.0h0M352.6 483.0h0M358.4 483.0h0M364.2 483.0h0M370.0 483.0h0M375.7 483.0h0M381.5 483.0h0M387.3 483.0h0M393.1 483.0h0M398.9 483.0h0M404.6 483.0h0M410.4 483.0h0M416.2 483.0h0M422.0 483.0h0M427.8 483.0h0M433.5 483.0h0M439.3 483.0h0M445.1 483.0h0M450.9 483.0h0M456.7 483.0h0M462.4 483.0h0M468.2 483.0h0M474.0 483.0h0M479.8 483.0h0M485.6 483.0h0M491.3 483.0h0M497.1 483.0h0M156.1 488.8h0M161.9 488.8h0M167.7 488.8h0M173.4 488.8h0M179.2 488.8h0M185.0 488.8h0M190.8 488.8h0M196.6 488.8h0M202.3 488.8h0M208.1 488.8h0M213.9 488.8h0M219.7 488.8h0M225.5 488.8h0M231.2 488.8h0M237.0 488.8h0M242.8 488.8h0M248.6 488.8h0M254.4 488.8h0M260.1 488.8h0M265.9 488.8h0M271.7 488.8h0M277.5 488.8h0M283.3 488.8h0M289.0 488.8h0M294.8 488.8h0M300.6 488.8h0M306.4 488.8h0M312.2 488.8h0M317.9 488.8h0M323.7 488.8h0M329.5 488.8h0M335.3 488.8h0M341.1 488.8h0M346.8 488.8h0M352.6 488.8h0M358.4 488.8h0M364.2 488.8h0M370.0 488.8h0M375.7 488.8h0M381.5 488.8h0M387.3 488.8h0M393.1 488.8h0M398.9 488.8h0M404.6 488.8h0M410.4 488.8h0M416.2 488.8h0M422.0 488.8h0M427.8 488.8h0M433.5 488.8h0M439.3 488.8h0M445.1 488.8h0M450.9 488.8h0M456.7 488.8h0M462.4 488.8h0M468.2 488.8h0M474.0 488.8h0M479.8 488.8h0M485.6 488.8h0M491.3 488.8h0M497.1 488.8h0M156.1 494.6h0M161.9 494.6h0M167.7 494.6h0M173.4 494.6h0M179.2 494.6h0M185.0 494.6h0M190.8 494.6h0M196.6 494.6h0M202.3 494.6h0M208.1 494.6h0M213.9 494.6h0M219.7 494.6h0M225.5 494.6h0M231.2 494.6h0M237.0 494.6h0M242.8 494.6h0M248.6 494.6h0M254.4 494.6h0M260.1 494.6h0M265.9 494.6h0M271.7 494.6h0M277.5 494.6h0M283.3 494.6h0M289.0 494.6h0M294.8 494.6h0M300.6 494.6h0M306.4 494.6h0M312.2 494.6h0M317.9 494.6h0M323.7 494.6h0M329.5 494.6h0M335.3 494.6h0M341.1 494.6h0M346.8 494.6h0M352.6 494.6h0M358.4 494.6h0M364.2 494.6h0M370.0 494.6h0M375.7 494.6h0M381.5 494.6h0M387.3 494.6h0M393.1 494.6h0M398.9 494.6h0M404.6 494.6h0M410.4 494.6h0M416.2 494.6h0M422.0 494.6h0M427.8 494.6h0M433.5 494.6h0M439.3 494.6h0M445.1 494.6h0M450.9 494.6h0M456.7 494.6h0M462.4 494.6h0M468.2 494.6h0M474.0 494.6h0M479.8 494.6h0M485.6 494.6h0M491.3 494.6h0M497.1 494.6h0M156.1 500.3h0M161.9 500.3h0M167.7 500.3h0M173.4 500.3h0M179.2 500.3h0M185.0 500.3h0M190.8 500.3h0M196.6 500.3h0M202.3 500.3h0M208.1 500.3h0M213.9 500.3h0M219.7 500.3h0M225.5 500.3h0M231.2 500.3h0M237.0 500.3h0M242.8 500.3h0M248.6 500.3h0M254.4 500.3h0M260.1 500.3h0M265.9 500.3h0M271.7 500.3h0M277.5 500.3h0M283.3 500.3h0M289.0 500.3h0M294.8 500.3h0M300.6 500.3h0M306.4 500.3h0M312.2 500.3h0M317.9 500.3h0M323.7 500.3h0M329.5 500.3h0M335.3 500.3h0M341.1 500.3h0M346.8 500.3h0M352.6 500.3h0M358.4 500.3h0M364.2 500.3h0M370.0 500.3h0M375.7 500.3h0M381.5 500.3h0M387.3 500.3h0M393.1 500.3h0M398.9 500.3h0M404.6 500.3h0M410.4 500.3h0M416.2 500.3h0M422.0 500.3h0M427.8 500.3h0M433.5 500.3h0M439.3 500.3h0M445.1 500.3h0M450.9 500.3h0M456.7 500.3h0M462.4 500.3h0M468.2 500.3h0M474.0 500.3h0M479.8 500.3h0M485.6 500.3h0M491.3 500.3h0M497.1 500.3h0M156.1 506.1h0M161.9 506.1h0M167.7 506.1h0M173.4 506.1h0M179.2 506.1h0M185.0 506.1h0M190.8 506.1h0M196.6 506.1h0M202.3 506.1h0M208.1 506.1h0M213.9 506.1h0M219.7 506.1h0M225.5 506.1h0M231.2 506.1h0M237.0 506.1h0M242.8 506.1h0M248.6 506.1h0M254.4 506.1h0M260.1 506.1h0M265.9 506.1h0M271.7 506.1h0M277.5 506.1h0M283.3 506.1h0M289.0 506.1h0M294.8 506.1h0M300.6 506.1h0M306.4 506.1h0M312.2 506.1h0M317.9 506.1h0M323.7 506.1h0M329.5 506.1h0M335.3 506.1h0M341.1 506.1h0M346.8 506.1h0M352.6 506.1h0M358.4 506.1h0M364.2 506.1h0M370.0 506.1h0M375.7 506.1h0M381.5 506.1h0M387.3 506.1h0M393.1 506.1h0M398.9 506.1h0M404.6 506.1h0M410.4 506.1h0M416.2 506.1h0M422.0 506.1h0M427.8 506.1h0M433.5 506.1h0M439.3 506.1h0M445.1 506.1h0M450.9 506.1h0M456.7 506.1h0M462.4 506.1h0M468.2 506.1h0M474.0 506.1h0M479.8 506.1h0M485.6 506.1h0M491.3 506.1h0M497.1 506.1h0M156.1 511.9h0M161.9 511.9h0M167.7 511.9h0M173.4 511.9h0M179.2 511.9h0M185.0 511.9h0M190.8 511.9h0M196.6 511.9h0M202.3 511.9h0M208.1 511.9h0M213.9 511.9h0M219.7 511.9h0M225.5 511.9h0M231.2 511.9h0M237.0 511.9h0M242.8 511.9h0M248.6 511.9h0M254.4 511.9h0M260.1 511.9h0M265.9 511.9h0M271.7 511.9h0M277.5 511.9h0M283.3 511.9h0M289.0 511.9h0M294.8 511.9h0M300.6 511.9h0M306.4 511.9h0M312.2 511.9h0M317.9 511.9h0M323.7 511.9h0M329.5 511.9h0M335.3 511.9h0M341.1 511.9h0M346.8 511.9h0M352.6 511.9h0M358.4 511.9h0M364.2 511.9h0M370.0 511.9h0M375.7 511.9h0M381.5 511.9h0M387.3 511.9h0M393.1 511.9h0M398.9 511.9h0M404.6 511.9h0M410.4 511.9h0M416.2 511.9h0M422.0 511.9h0M427.8 511.9h0M433.5 511.9h0M439.3 511.9h0M445.1 511.9h0M450.9 511.9h0M456.7 511.9h0M462.4 511.9h0M468.2 511.9h0M474.0 511.9h0M479.8 511.9h0M485.6 511.9h0M491.3 511.9h0M497.1 511.9h0M156.1 517.7h0M161.9 517.7h0M167.7 517.7h0M173.4 517.7h0M179.2 517.7h0M185.0 517.7h0M190.8 517.7h0M196.6 517.7h0M202.3 517.7h0M208.1 517.7h0M213.9 517.7h0M219.7 517.7h0M225.5 517.7h0M231.2 517.7h0M237.0 517.7h0M242.8 517.7h0M248.6 517.7h0M254.4 517.7h0M260.1 517.7h0M265.9 517.7h0M271.7 517.7h0M277.5 517.7h0M283.3 517.7h0M289.0 517.7h0M294.8 517.7h0M300.6 517.7h0M306.4 517.7h0M312.2 517.7h0M317.9 517.7h0M323.7 517.7h0M329.5 517.7h0M335.3 517.7h0M341.1 517.7h0M346.8 517.7h0M352.6 517.7h0M358.4 517.7h0M364.2 517.7h0M370.0 517.7h0M375.7 517.7h0M381.5 517.7h0M387.3 517.7h0M393.1 517.7h0M398.9 517.7h0M404.6 517.7h0M410.4 517.7h0M416.2 517.7h0M422.0 517.7h0M427.8 517.7h0M433.5 517.7h0M439.3 517.7h0M445.1 517.7h0M450.9 517.7h0M456.7 517.7h0M462.4 517.7h0M468.2 517.7h0M474.0 517.7h0M479.8 517.7h0M485.6 517.7h0M491.3 517.7h0M497.1 517.7h0"/>
<text x="182.30" y="491.8" font-size="18.2">no TPO</text>
<rect x="129.3" y="301.5" width="384.60" height="259.00" fill="none" stroke="#000" stroke-width="1.7"/>
<line x1="121.10" y1="301.50" x2="129.30" y2="301.50" stroke="#000" stroke-width="1.7"/>
<text x="117.10" y="307.50" font-size="21" text-anchor="end">10</text>
<line x1="121.10" y1="366.25" x2="129.30" y2="366.25" stroke="#000" stroke-width="1.7"/>
<text x="117.10" y="372.25" font-size="21" text-anchor="end">9</text>
<line x1="121.10" y1="431.00" x2="129.30" y2="431.00" stroke="#000" stroke-width="1.7"/>
<text x="117.10" y="437.00" font-size="21" text-anchor="end">8</text>
<line x1="121.10" y1="495.75" x2="129.30" y2="495.75" stroke="#000" stroke-width="1.7"/>
<text x="117.10" y="501.75" font-size="21" text-anchor="end">7</text>
<line x1="121.10" y1="560.50" x2="129.30" y2="560.50" stroke="#000" stroke-width="1.7"/>
<text x="117.10" y="566.50" font-size="21" text-anchor="end">6</text>
<line x1="129.30" y1="560.50" x2="129.30" y2="564.70" stroke="#000" stroke-width="1.7"/>
<line x1="154.11" y1="560.50" x2="154.11" y2="568.50" stroke="#000" stroke-width="1.7"/>
<text x="154.11" y="588.70" font-size="21" text-anchor="middle">-4</text>
<line x1="178.93" y1="560.50" x2="178.93" y2="564.70" stroke="#000" stroke-width="1.7"/>
<line x1="203.74" y1="560.50" x2="203.74" y2="568.50" stroke="#000" stroke-width="1.7"/>
<text x="203.74" y="588.70" font-size="21" text-anchor="middle">0</text>
<line x1="228.55" y1="560.50" x2="228.55" y2="564.70" stroke="#000" stroke-width="1.7"/>
<line x1="253.36" y1="560.50" x2="253.36" y2="568.50" stroke="#000" stroke-width="1.7"/>
<text x="253.36" y="588.70" font-size="21" text-anchor="middle">4</text>
<line x1="278.18" y1="560.50" x2="278.18" y2="564.70" stroke="#000" stroke-width="1.7"/>
<line x1="302.99" y1="560.50" x2="302.99" y2="568.50" stroke="#000" stroke-width="1.7"/>
<text x="302.99" y="588.70" font-size="21" text-anchor="middle">8</text>
<line x1="327.80" y1="560.50" x2="327.80" y2="564.70" stroke="#000" stroke-width="1.7"/>
<line x1="352.62" y1="560.50" x2="352.62" y2="568.50" stroke="#000" stroke-width="1.7"/>
<text x="352.62" y="588.70" font-size="21" text-anchor="middle">12</text>
<line x1="377.43" y1="560.50" x2="377.43" y2="564.70" stroke="#000" stroke-width="1.7"/>
<line x1="402.24" y1="560.50" x2="402.24" y2="568.50" stroke="#000" stroke-width="1.7"/>
<text x="402.24" y="588.70" font-size="21" text-anchor="middle">16</text>
<line x1="427.05" y1="560.50" x2="427.05" y2="564.70" stroke="#000" stroke-width="1.7"/>
<line x1="451.87" y1="560.50" x2="451.87" y2="568.50" stroke="#000" stroke-width="1.7"/>
<text x="451.87" y="588.70" font-size="21" text-anchor="middle">20</text>
<line x1="476.68" y1="560.50" x2="476.68" y2="564.70" stroke="#000" stroke-width="1.7"/>
<line x1="501.49" y1="560.50" x2="501.49" y2="568.50" stroke="#000" stroke-width="1.7"/>
<text x="501.49" y="588.70" font-size="21" text-anchor="middle">24</text>
<line x1="179.3" y1="347.0" x2="179.3" y2="385.9" stroke="#1a1a1a" stroke-width="1.0"/>
<line x1="174.30" y1="347.0" x2="184.30" y2="347.0" stroke="#222" stroke-width="1.3"/>
<line x1="174.30" y1="385.9" x2="184.30" y2="385.9" stroke="#222" stroke-width="1.3"/>
<line x1="179.3" y1="350.6" x2="179.3" y2="377.2" stroke="#1a1a1a" stroke-width="1.0"/>
<line x1="174.30" y1="350.6" x2="184.30" y2="350.6" stroke="#222" stroke-width="1.3"/>
<line x1="174.30" y1="377.2" x2="184.30" y2="377.2" stroke="#222" stroke-width="1.3"/>
<line x1="204.1" y1="344.8" x2="204.1" y2="392.2" stroke="#1a1a1a" stroke-width="1.0"/>
<line x1="199.10" y1="344.8" x2="209.10" y2="344.8" stroke="#222" stroke-width="1.3"/>
<line x1="199.10" y1="392.2" x2="209.10" y2="392.2" stroke="#222" stroke-width="1.3"/>
<line x1="228.9" y1="324.3" x2="228.9" y2="407.6" stroke="#1a1a1a" stroke-width="1.0"/>
<line x1="223.90" y1="324.3" x2="233.90" y2="324.3" stroke="#222" stroke-width="1.3"/>
<line x1="223.90" y1="407.6" x2="233.90" y2="407.6" stroke="#222" stroke-width="1.3"/>
<line x1="253.75" y1="352.7" x2="253.75" y2="399.4" stroke="#1a1a1a" stroke-width="1.0"/>
<line x1="248.75" y1="352.7" x2="258.75" y2="352.7" stroke="#222" stroke-width="1.3"/>
<line x1="248.75" y1="399.4" x2="258.75" y2="399.4" stroke="#222" stroke-width="1.3"/>
<line x1="278.4" y1="368.4" x2="278.4" y2="430.4" stroke="#1a1a1a" stroke-width="1.0"/>
<line x1="273.40" y1="368.4" x2="283.40" y2="368.4" stroke="#222" stroke-width="1.3"/>
<line x1="273.40" y1="430.4" x2="283.40" y2="430.4" stroke="#222" stroke-width="1.3"/>
<line x1="303.1" y1="380.4" x2="303.1" y2="418.6" stroke="#1a1a1a" stroke-width="1.0"/>
<line x1="298.10" y1="380.4" x2="308.10" y2="380.4" stroke="#222" stroke-width="1.3"/>
<line x1="298.10" y1="418.6" x2="308.10" y2="418.6" stroke="#222" stroke-width="1.3"/>
<line x1="327.8" y1="410.6" x2="327.8" y2="437.3" stroke="#1a1a1a" stroke-width="1.0"/>
<line x1="322.80" y1="410.6" x2="332.80" y2="410.6" stroke="#222" stroke-width="1.3"/>
<line x1="322.80" y1="437.3" x2="332.80" y2="437.3" stroke="#222" stroke-width="1.3"/>
<line x1="352.6" y1="381.9" x2="352.6" y2="457.3" stroke="#1a1a1a" stroke-width="1.0"/>
<line x1="347.60" y1="381.9" x2="357.60" y2="381.9" stroke="#222" stroke-width="1.3"/>
<line x1="347.60" y1="457.3" x2="357.60" y2="457.3" stroke="#222" stroke-width="1.3"/>
<line x1="377.3" y1="381.5" x2="377.3" y2="411.5" stroke="#1a1a1a" stroke-width="1.0"/>
<line x1="372.30" y1="381.5" x2="382.30" y2="381.5" stroke="#222" stroke-width="1.3"/>
<line x1="372.30" y1="411.5" x2="382.30" y2="411.5" stroke="#222" stroke-width="1.3"/>
<line x1="402.2" y1="380.6" x2="402.2" y2="436.7" stroke="#1a1a1a" stroke-width="1.0"/>
<line x1="397.20" y1="380.6" x2="407.20" y2="380.6" stroke="#222" stroke-width="1.3"/>
<line x1="397.20" y1="436.7" x2="407.20" y2="436.7" stroke="#222" stroke-width="1.3"/>
<line x1="501.2" y1="426.6" x2="501.2" y2="497.2" stroke="#1a1a1a" stroke-width="1.0"/>
<line x1="496.20" y1="426.6" x2="506.20" y2="426.6" stroke="#222" stroke-width="1.3"/>
<line x1="496.20" y1="497.2" x2="506.20" y2="497.2" stroke="#222" stroke-width="1.3"/>
<rect x="174.30" y="361.60" width="10.0" height="10.0" fill="#000"/>
<rect x="176.30" y="361.00" width="6.00" height="6.00" fill="#fff" stroke="#000" stroke-width="1.6"/>
<rect x="201.10" y="365.50" width="6.00" height="6.00" fill="#fff" stroke="#000" stroke-width="1.6"/>
<rect x="225.90" y="363.20" width="6.00" height="6.00" fill="#fff" stroke="#000" stroke-width="1.6"/>
<rect x="250.75" y="373.00" width="6.00" height="6.00" fill="#fff" stroke="#000" stroke-width="1.6"/>
<rect x="275.40" y="396.60" width="6.00" height="6.00" fill="#fff" stroke="#000" stroke-width="1.6"/>
<rect x="300.10" y="396.50" width="6.00" height="6.00" fill="#fff" stroke="#000" stroke-width="1.6"/>
<rect x="324.80" y="421.00" width="6.00" height="6.00" fill="#fff" stroke="#000" stroke-width="1.6"/>
<rect x="349.60" y="416.80" width="6.00" height="6.00" fill="#fff" stroke="#000" stroke-width="1.6"/>
<rect x="374.30" y="393.70" width="6.00" height="6.00" fill="#fff" stroke="#000" stroke-width="1.6"/>
<rect x="399.20" y="405.90" width="6.00" height="6.00" fill="#fff" stroke="#000" stroke-width="1.6"/>
<rect x="498.20" y="459.20" width="6.00" height="6.00" fill="#fff" stroke="#000" stroke-width="1.6"/>
<text transform="translate(21.5,553.8) rotate(-90)" font-size="26.7">red blood cells</text>
<text transform="translate(58.3,553.8) rotate(-90)" font-size="26.7">at day 10 (x10<tspan dy="-9.3">12</tspan><tspan dy="9.3">/L)</tspan></text>
<path fill="none" stroke="#202020" stroke-width="2.1" stroke-linecap="round" d="M155.8 791.9h0M161.6 791.9h0M167.4 791.9h0M173.1 791.9h0M178.9 791.9h0M184.7 791.9h0M190.5 791.9h0M196.3 791.9h0M202.0 791.9h0M207.8 791.9h0M213.6 791.9h0M219.4 791.9h0M225.2 791.9h0M230.9 791.9h0M236.7 791.9h0M242.5 791.9h0M248.3 791.9h0M254.1 791.9h0M259.8 791.9h0M265.6 791.9h0M271.4 791.9h0M277.2 791.9h0M283.0 791.9h0M288.7 791.9h0M294.5 791.9h0M300.3 791.9h0M306.1 791.9h0M311.9 791.9h0M317.6 791.9h0M323.4 791.9h0M329.2 791.9h0M335.0 791.9h0M340.8 791.9h0M346.5 791.9h0M352.3 791.9h0M358.1 791.9h0M363.9 791.9h0M369.7 791.9h0M375.4 791.9h0M381.2 791.9h0M387.0 791.9h0M392.8 791.9h0M398.6 791.9h0M404.3 791.9h0M410.1 791.9h0M415.9 791.9h0M421.7 791.9h0M427.5 791.9h0M433.2 791.9h0M439.0 791.9h0M444.8 791.9h0M450.6 791.9h0M456.4 791.9h0M462.1 791.9h0M467.9 791.9h0M473.7 791.9h0M479.5 791.9h0M485.3 791.9h0M491.0 791.9h0M496.8 791.9h0M155.8 797.8h0M161.6 797.8h0M167.4 797.8h0M173.1 797.8h0M178.9 797.8h0M184.7 797.8h0M190.5 797.8h0M196.3 797.8h0M202.0 797.8h0M207.8 797.8h0M213.6 797.8h0M219.4 797.8h0M225.2 797.8h0M230.9 797.8h0M236.7 797.8h0M242.5 797.8h0M248.3 797.8h0M254.1 797.8h0M259.8 797.8h0M265.6 797.8h0M271.4 797.8h0M277.2 797.8h0M283.0 797.8h0M288.7 797.8h0M294.5 797.8h0M300.3 797.8h0M306.1 797.8h0M311.9 797.8h0M317.6 797.8h0M323.4 797.8h0M329.2 797.8h0M335.0 797.8h0M340.8 797.8h0M346.5 797.8h0M352.3 797.8h0M358.1 797.8h0M363.9 797.8h0M369.7 797.8h0M375.4 797.8h0M381.2 797.8h0M387.0 797.8h0M392.8 797.8h0M398.6 797.8h0M404.3 797.8h0M410.1 797.8h0M415.9 797.8h0M421.7 797.8h0M427.5 797.8h0M433.2 797.8h0M439.0 797.8h0M444.8 797.8h0M450.6 797.8h0M456.4 797.8h0M462.1 797.8h0M467.9 797.8h0M473.7 797.8h0M479.5 797.8h0M485.3 797.8h0M491.0 797.8h0M496.8 797.8h0M155.8 803.7h0M161.6 803.7h0M167.4 803.7h0M173.1 803.7h0M178.9 803.7h0M184.7 803.7h0M190.5 803.7h0M196.3 803.7h0M202.0 803.7h0M207.8 803.7h0M213.6 803.7h0M219.4 803.7h0M225.2 803.7h0M230.9 803.7h0M236.7 803.7h0M242.5 803.7h0M248.3 803.7h0M254.1 803.7h0M259.8 803.7h0M265.6 803.7h0M271.4 803.7h0M277.2 803.7h0M283.0 803.7h0M288.7 803.7h0M294.5 803.7h0M300.3 803.7h0M306.1 803.7h0M311.9 803.7h0M317.6 803.7h0M323.4 803.7h0M329.2 803.7h0M335.0 803.7h0M340.8 803.7h0M346.5 803.7h0M352.3 803.7h0M358.1 803.7h0M363.9 803.7h0M369.7 803.7h0M375.4 803.7h0M381.2 803.7h0M387.0 803.7h0M392.8 803.7h0M398.6 803.7h0M404.3 803.7h0M410.1 803.7h0M415.9 803.7h0M421.7 803.7h0M427.5 803.7h0M433.2 803.7h0M439.0 803.7h0M444.8 803.7h0M450.6 803.7h0M456.4 803.7h0M462.1 803.7h0M467.9 803.7h0M473.7 803.7h0M479.5 803.7h0M485.3 803.7h0M491.0 803.7h0M496.8 803.7h0M155.8 809.6h0M161.6 809.6h0M167.4 809.6h0M173.1 809.6h0M178.9 809.6h0M184.7 809.6h0M190.5 809.6h0M196.3 809.6h0M202.0 809.6h0M207.8 809.6h0M213.6 809.6h0M219.4 809.6h0M225.2 809.6h0M230.9 809.6h0M236.7 809.6h0M242.5 809.6h0M248.3 809.6h0M254.1 809.6h0M259.8 809.6h0M265.6 809.6h0M271.4 809.6h0M277.2 809.6h0M283.0 809.6h0M288.7 809.6h0M294.5 809.6h0M300.3 809.6h0M306.1 809.6h0M311.9 809.6h0M317.6 809.6h0M323.4 809.6h0M329.2 809.6h0M335.0 809.6h0M340.8 809.6h0M346.5 809.6h0M352.3 809.6h0M358.1 809.6h0M363.9 809.6h0M369.7 809.6h0M375.4 809.6h0M381.2 809.6h0M387.0 809.6h0M392.8 809.6h0M398.6 809.6h0M404.3 809.6h0M410.1 809.6h0M415.9 809.6h0M421.7 809.6h0M427.5 809.6h0M433.2 809.6h0M439.0 809.6h0M444.8 809.6h0M450.6 809.6h0M456.4 809.6h0M462.1 809.6h0M467.9 809.6h0M473.7 809.6h0M479.5 809.6h0M485.3 809.6h0M491.0 809.6h0M496.8 809.6h0M155.8 815.5h0M161.6 815.5h0M167.4 815.5h0M173.1 815.5h0M178.9 815.5h0M184.7 815.5h0M190.5 815.5h0M196.3 815.5h0M202.0 815.5h0M207.8 815.5h0M213.6 815.5h0M219.4 815.5h0M225.2 815.5h0M230.9 815.5h0M236.7 815.5h0M242.5 815.5h0M248.3 815.5h0M254.1 815.5h0M259.8 815.5h0M265.6 815.5h0M271.4 815.5h0M277.2 815.5h0M283.0 815.5h0M288.7 815.5h0M294.5 815.5h0M300.3 815.5h0M306.1 815.5h0M311.9 815.5h0M317.6 815.5h0M323.4 815.5h0M329.2 815.5h0M335.0 815.5h0M340.8 815.5h0M346.5 815.5h0M352.3 815.5h0M358.1 815.5h0M363.9 815.5h0M369.7 815.5h0M375.4 815.5h0M381.2 815.5h0M387.0 815.5h0M392.8 815.5h0M398.6 815.5h0M404.3 815.5h0M410.1 815.5h0M415.9 815.5h0M421.7 815.5h0M427.5 815.5h0M433.2 815.5h0M439.0 815.5h0M444.8 815.5h0M450.6 815.5h0M456.4 815.5h0M462.1 815.5h0M467.9 815.5h0M473.7 815.5h0M479.5 815.5h0M485.3 815.5h0M491.0 815.5h0M496.8 815.5h0M158.7 794.9h0M164.5 794.9h0M170.3 794.9h0M176.0 794.9h0M181.8 794.9h0M187.6 794.9h0M193.4 794.9h0M199.2 794.9h0M204.9 794.9h0M210.7 794.9h0M216.5 794.9h0M222.3 794.9h0M228.1 794.9h0M233.8 794.9h0M239.6 794.9h0M245.4 794.9h0M251.2 794.9h0M257.0 794.9h0M262.7 794.9h0M268.5 794.9h0M274.3 794.9h0M280.1 794.9h0M285.9 794.9h0M291.6 794.9h0M297.4 794.9h0M303.2 794.9h0M309.0 794.9h0M314.8 794.9h0M320.5 794.9h0M326.3 794.9h0M332.1 794.9h0M337.9 794.9h0M343.7 794.9h0M349.4 794.9h0M355.2 794.9h0M361.0 794.9h0M366.8 794.9h0M372.6 794.9h0M378.3 794.9h0M384.1 794.9h0M389.9 794.9h0M395.7 794.9h0M401.5 794.9h0M407.2 794.9h0M413.0 794.9h0M418.8 794.9h0M424.6 794.9h0M430.4 794.9h0M436.1 794.9h0M441.9 794.9h0M447.7 794.9h0M453.5 794.9h0M459.3 794.9h0M465.0 794.9h0M470.8 794.9h0M476.6 794.9h0M482.4 794.9h0M488.2 794.9h0M493.9 794.9h0M158.7 800.8h0M164.5 800.8h0M170.3 800.8h0M176.0 800.8h0M181.8 800.8h0M187.6 800.8h0M193.4 800.8h0M199.2 800.8h0M204.9 800.8h0M210.7 800.8h0M216.5 800.8h0M222.3 800.8h0M228.1 800.8h0M233.8 800.8h0M239.6 800.8h0M245.4 800.8h0M251.2 800.8h0M257.0 800.8h0M262.7 800.8h0M268.5 800.8h0M274.3 800.8h0M280.1 800.8h0M285.9 800.8h0M291.6 800.8h0M297.4 800.8h0M303.2 800.8h0M309.0 800.8h0M314.8 800.8h0M320.5 800.8h0M326.3 800.8h0M332.1 800.8h0M337.9 800.8h0M343.7 800.8h0M349.4 800.8h0M355.2 800.8h0M361.0 800.8h0M366.8 800.8h0M372.6 800.8h0M378.3 800.8h0M384.1 800.8h0M389.9 800.8h0M395.7 800.8h0M401.5 800.8h0M407.2 800.8h0M413.0 800.8h0M418.8 800.8h0M424.6 800.8h0M430.4 800.8h0M436.1 800.8h0M441.9 800.8h0M447.7 800.8h0M453.5 800.8h0M459.3 800.8h0M465.0 800.8h0M470.8 800.8h0M476.6 800.8h0M482.4 800.8h0M488.2 800.8h0M493.9 800.8h0M158.7 806.7h0M164.5 806.7h0M170.3 806.7h0M176.0 806.7h0M181.8 806.7h0M187.6 806.7h0M193.4 806.7h0M199.2 806.7h0M204.9 806.7h0M210.7 806.7h0M216.5 806.7h0M222.3 806.7h0M228.1 806.7h0M233.8 806.7h0M239.6 806.7h0M245.4 806.7h0M251.2 806.7h0M257.0 806.7h0M262.7 806.7h0M268.5 806.7h0M274.3 806.7h0M280.1 806.7h0M285.9 806.7h0M291.6 806.7h0M297.4 806.7h0M303.2 806.7h0M309.0 806.7h0M314.8 806.7h0M320.5 806.7h0M326.3 806.7h0M332.1 806.7h0M337.9 806.7h0M343.7 806.7h0M349.4 806.7h0M355.2 806.7h0M361.0 806.7h0M366.8 806.7h0M372.6 806.7h0M378.3 806.7h0M384.1 806.7h0M389.9 806.7h0M395.7 806.7h0M401.5 806.7h0M407.2 806.7h0M413.0 806.7h0M418.8 806.7h0M424.6 806.7h0M430.4 806.7h0M436.1 806.7h0M441.9 806.7h0M447.7 806.7h0M453.5 806.7h0M459.3 806.7h0M465.0 806.7h0M470.8 806.7h0M476.6 806.7h0M482.4 806.7h0M488.2 806.7h0M493.9 806.7h0M158.7 812.6h0M164.5 812.6h0M170.3 812.6h0M176.0 812.6h0M181.8 812.6h0M187.6 812.6h0M193.4 812.6h0M199.2 812.6h0M204.9 812.6h0M210.7 812.6h0M216.5 812.6h0M222.3 812.6h0M228.1 812.6h0M233.8 812.6h0M239.6 812.6h0M245.4 812.6h0M251.2 812.6h0M257.0 812.6h0M262.7 812.6h0M268.5 812.6h0M274.3 812.6h0M280.1 812.6h0M285.9 812.6h0M291.6 812.6h0M297.4 812.6h0M303.2 812.6h0M309.0 812.6h0M314.8 812.6h0M320.5 812.6h0M326.3 812.6h0M332.1 812.6h0M337.9 812.6h0M343.7 812.6h0M349.4 812.6h0M355.2 812.6h0M361.0 812.6h0M366.8 812.6h0M372.6 812.6h0M378.3 812.6h0M384.1 812.6h0M389.9 812.6h0M395.7 812.6h0M401.5 812.6h0M407.2 812.6h0M413.0 812.6h0M418.8 812.6h0M424.6 812.6h0M430.4 812.6h0M436.1 812.6h0M441.9 812.6h0M447.7 812.6h0M453.5 812.6h0M459.3 812.6h0M465.0 812.6h0M470.8 812.6h0M476.6 812.6h0M482.4 812.6h0M488.2 812.6h0M493.9 812.6h0"/>
<line x1="155.60" y1="820.4" x2="155.60" y2="853.9" stroke="#999" stroke-width="1.1" stroke-dasharray="1.2,4.7"/>
<text x="187.70" y="812.3" font-size="18.2">no TPO</text>
<rect x="130.5" y="596.8" width="384.50" height="258.10" fill="none" stroke="#000" stroke-width="1.7"/>
<line x1="122.30" y1="596.80" x2="130.50" y2="596.80" stroke="#000" stroke-width="1.7"/>
<text x="118.30" y="602.80" font-size="21" text-anchor="end">2</text>
<line x1="122.30" y1="661.32" x2="130.50" y2="661.32" stroke="#000" stroke-width="1.7"/>
<text x="118.30" y="667.32" font-size="21" text-anchor="end">1.5</text>
<line x1="122.30" y1="725.85" x2="130.50" y2="725.85" stroke="#000" stroke-width="1.7"/>
<text x="118.30" y="731.85" font-size="21" text-anchor="end">1</text>
<line x1="122.30" y1="790.38" x2="130.50" y2="790.38" stroke="#000" stroke-width="1.7"/>
<text x="118.30" y="796.38" font-size="21" text-anchor="end">0.5</text>
<line x1="122.30" y1="854.90" x2="130.50" y2="854.90" stroke="#000" stroke-width="1.7"/>
<text x="118.30" y="860.90" font-size="21" text-anchor="end">0</text>
<line x1="130.50" y1="854.90" x2="130.50" y2="859.10" stroke="#000" stroke-width="1.7"/>
<line x1="155.31" y1="854.90" x2="155.31" y2="862.90" stroke="#000" stroke-width="1.7"/>
<text x="155.31" y="883.40" font-size="21" text-anchor="middle">-4</text>
<line x1="180.11" y1="854.90" x2="180.11" y2="859.10" stroke="#000" stroke-width="1.7"/>
<line x1="204.92" y1="854.90" x2="204.92" y2="862.90" stroke="#000" stroke-width="1.7"/>
<text x="204.92" y="883.40" font-size="21" text-anchor="middle">0</text>
<line x1="229.73" y1="854.90" x2="229.73" y2="859.10" stroke="#000" stroke-width="1.7"/>
<line x1="254.53" y1="854.90" x2="254.53" y2="862.90" stroke="#000" stroke-width="1.7"/>
<text x="254.53" y="883.40" font-size="21" text-anchor="middle">4</text>
<line x1="279.34" y1="854.90" x2="279.34" y2="859.10" stroke="#000" stroke-width="1.7"/>
<line x1="304.15" y1="854.90" x2="304.15" y2="862.90" stroke="#000" stroke-width="1.7"/>
<text x="304.15" y="883.40" font-size="21" text-anchor="middle">8</text>
<line x1="328.95" y1="854.90" x2="328.95" y2="859.10" stroke="#000" stroke-width="1.7"/>
<line x1="353.76" y1="854.90" x2="353.76" y2="862.90" stroke="#000" stroke-width="1.7"/>
<text x="353.76" y="883.40" font-size="21" text-anchor="middle">12</text>
<line x1="378.56" y1="854.90" x2="378.56" y2="859.10" stroke="#000" stroke-width="1.7"/>
<line x1="403.37" y1="854.90" x2="403.37" y2="862.90" stroke="#000" stroke-width="1.7"/>
<text x="403.37" y="883.40" font-size="21" text-anchor="middle">16</text>
<line x1="428.18" y1="854.90" x2="428.18" y2="859.10" stroke="#000" stroke-width="1.7"/>
<line x1="452.98" y1="854.90" x2="452.98" y2="862.90" stroke="#000" stroke-width="1.7"/>
<text x="452.98" y="883.40" font-size="21" text-anchor="middle">20</text>
<line x1="477.79" y1="854.90" x2="477.79" y2="859.10" stroke="#000" stroke-width="1.7"/>
<line x1="502.60" y1="854.90" x2="502.60" y2="862.90" stroke="#000" stroke-width="1.7"/>
<text x="502.60" y="883.40" font-size="21" text-anchor="middle">24</text>
<line x1="180.3" y1="725.5" x2="180.3" y2="777.3" stroke="#1a1a1a" stroke-width="1.0"/>
<line x1="175.30" y1="725.5" x2="185.30" y2="725.5" stroke="#222" stroke-width="1.3"/>
<line x1="175.30" y1="777.3" x2="185.30" y2="777.3" stroke="#222" stroke-width="1.3"/>
<line x1="180.3" y1="741.7" x2="180.3" y2="795.0" stroke="#1a1a1a" stroke-width="1.0"/>
<line x1="175.30" y1="741.7" x2="185.30" y2="741.7" stroke="#222" stroke-width="1.3"/>
<line x1="175.30" y1="795.0" x2="185.30" y2="795.0" stroke="#222" stroke-width="1.3"/>
<line x1="205.1" y1="672.5" x2="205.1" y2="765.8" stroke="#1a1a1a" stroke-width="1.0"/>
<line x1="200.10" y1="672.5" x2="210.10" y2="672.5" stroke="#222" stroke-width="1.3"/>
<line x1="200.10" y1="765.8" x2="210.10" y2="765.8" stroke="#222" stroke-width="1.3"/>
<line x1="229.8" y1="669.3" x2="229.8" y2="759.5" stroke="#1a1a1a" stroke-width="1.0"/>
<line x1="224.80" y1="669.3" x2="234.80" y2="669.3" stroke="#222" stroke-width="1.3"/>
<line x1="224.80" y1="759.5" x2="234.80" y2="759.5" stroke="#222" stroke-width="1.3"/>
<line x1="254.7" y1="722.2" x2="254.7" y2="780.5" stroke="#1a1a1a" stroke-width="1.0"/>
<line x1="249.70" y1="722.2" x2="259.70" y2="722.2" stroke="#222" stroke-width="1.3"/>
<line x1="249.70" y1="780.5" x2="259.70" y2="780.5" stroke="#222" stroke-width="1.3"/>
<line x1="279.3" y1="746.4" x2="279.3" y2="798.3" stroke="#1a1a1a" stroke-width="1.0"/>
<line x1="274.30" y1="746.4" x2="284.30" y2="746.4" stroke="#222" stroke-width="1.3"/>
<line x1="274.30" y1="798.3" x2="284.30" y2="798.3" stroke="#222" stroke-width="1.3"/>
<line x1="304.2" y1="740.1" x2="304.2" y2="800.6" stroke="#1a1a1a" stroke-width="1.0"/>
<line x1="299.20" y1="740.1" x2="309.20" y2="740.1" stroke="#222" stroke-width="1.3"/>
<line x1="299.20" y1="800.6" x2="309.20" y2="800.6" stroke="#222" stroke-width="1.3"/>
<line x1="328.75" y1="766.3" x2="328.75" y2="806.5" stroke="#1a1a1a" stroke-width="1.0"/>
<line x1="323.75" y1="766.3" x2="333.75" y2="766.3" stroke="#222" stroke-width="1.3"/>
<line x1="323.75" y1="806.5" x2="333.75" y2="806.5" stroke="#222" stroke-width="1.3"/>
<line x1="353.6" y1="764.5" x2="353.6" y2="816.1" stroke="#1a1a1a" stroke-width="1.0"/>
<line x1="348.60" y1="764.5" x2="358.60" y2="764.5" stroke="#222" stroke-width="1.3"/>
<line x1="348.60" y1="816.1" x2="358.60" y2="816.1" stroke="#222" stroke-width="1.3"/>
<line x1="378.3" y1="800.6" x2="378.3" y2="815.3" stroke="#1a1a1a" stroke-width="1.0"/>
<line x1="373.30" y1="800.6" x2="383.30" y2="800.6" stroke="#222" stroke-width="1.3"/>
<line x1="373.30" y1="815.3" x2="383.30" y2="815.3" stroke="#222" stroke-width="1.3"/>
<line x1="402.9" y1="813.0" x2="402.9" y2="828.0" stroke="#1a1a1a" stroke-width="1.0"/>
<line x1="397.90" y1="813.0" x2="407.90" y2="813.0" stroke="#222" stroke-width="1.3"/>
<line x1="397.90" y1="828.0" x2="407.90" y2="828.0" stroke="#222" stroke-width="1.3"/>
<line x1="502.5" y1="782.8" x2="502.5" y2="814.0" stroke="#1a1a1a" stroke-width="1.0"/>
<line x1="497.50" y1="782.8" x2="507.50" y2="782.8" stroke="#222" stroke-width="1.3"/>
<line x1="497.50" y1="814.0" x2="507.50" y2="814.0" stroke="#222" stroke-width="1.3"/>
<rect x="175.30" y="746.20" width="10.0" height="10.0" fill="#000"/>
<rect x="177.30" y="765.80" width="6.00" height="6.00" fill="#fff" stroke="#000" stroke-width="1.6"/>
<rect x="202.10" y="716.10" width="6.00" height="6.00" fill="#fff" stroke="#000" stroke-width="1.6"/>
<rect x="226.80" y="711.10" width="6.00" height="6.00" fill="#fff" stroke="#000" stroke-width="1.6"/>
<rect x="251.70" y="748.30" width="6.00" height="6.00" fill="#fff" stroke="#000" stroke-width="1.6"/>
<rect x="276.30" y="769.70" width="6.00" height="6.00" fill="#fff" stroke="#000" stroke-width="1.6"/>
<rect x="301.20" y="767.10" width="6.00" height="6.00" fill="#fff" stroke="#000" stroke-width="1.6"/>
<rect x="325.75" y="783.10" width="6.00" height="6.00" fill="#fff" stroke="#000" stroke-width="1.6"/>
<rect x="350.60" y="787.00" width="6.00" height="6.00" fill="#fff" stroke="#000" stroke-width="1.6"/>
<rect x="375.30" y="804.60" width="6.00" height="6.00" fill="#fff" stroke="#000" stroke-width="1.6"/>
<rect x="399.90" y="817.80" width="6.00" height="6.00" fill="#fff" stroke="#000" stroke-width="1.6"/>
<rect x="499.50" y="795.40" width="6.00" height="6.00" fill="#fff" stroke="#000" stroke-width="1.6"/>
<text transform="translate(20.9,841.3) rotate(-90)" font-size="26.7">white blood cells</text>
<text transform="translate(57.9,841.3) rotate(-90)" font-size="26.7">at day 10 (x10<tspan dy="-9.3">9</tspan><tspan dy="9.3">/L)</tspan></text>
<text x="142.3" y="924.6" font-size="26.7">TPO administration (h after TBI)</text>
</svg></body></html>
